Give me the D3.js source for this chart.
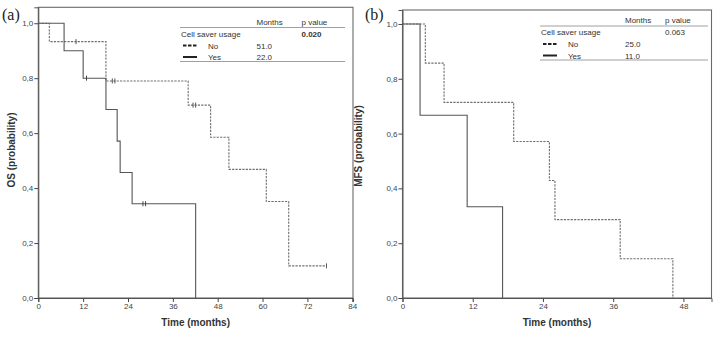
<!DOCTYPE html>
<html><head><meta charset="utf-8">
<script src="https://cdn.jsdelivr.net/npm/d3@7"></script>
<style>body{margin:0;background:#fff;}svg{display:block;}</style>
</head><body>
<svg id="c" width="718" height="337"></svg>
<script>
// ---- data ----
const yTicks = [0, 0.2, 0.4, 0.6, 0.8, 1.0];
const osXTicks = [0, 12, 24, 36, 48, 60, 72, 84];
const mfsXTicks = [0, 12, 24, 36, 48];
// step curves: [time, survival] at each event
const osNo  = [[0,1],[2.95,0.933],[18.1,0.790],[40.1,0.702],[46.1,0.585],[51.0,0.468],[61.0,0.351],[67.0,0.117],[77.1,0.117]];
const osNoCensor  = [[10.1,0.933],[19.8,0.790],[20.5,0.790],[41.4,0.702],[42.1,0.702],[77.1,0.117]];
const osYes = [[0,1],[6.9,0.9],[12.0,0.8],[18.1,0.686],[21.1,0.571],[21.9,0.457],[25.1,0.343],[42.1,0]];
const osYesCensor = [[12.9,0.8],[28.0,0.343],[28.7,0.343]];
const mfsNo  = [[0,1],[3.9,0.857],[7.1,0.714],[19.0,0.571],[25.1,0.429],[26.05,0.286],[37.2,0.143],[46.2,0]];
const mfsNoCensor = [];
const mfsYes = [[0,1],[3.0,0.667],[11.05,0.333],[17.1,0]];
const mfsYesCensor = [];
const legendGroups = ["No", "Yes"];
const osMedians = ["51.0", "22.0"];
const mfsMedians = ["25.0", "11.0"];
const osP = "0.020", mfsP = "0.063";

const svg = d3.select("#c");
const fmtY = d => d3.format(".1f")(d).replace(".", ",");

function panel(o) {
  const x = d3.scaleLinear().domain([0, o.xMax]).range([o.left, o.right]);
  const y = d3.scaleLinear().domain([0, o.yMax]).range([o.bottom, o.top]);
  const g = svg.append("g");
  // frame
  g.append("rect").attr("x", o.left).attr("y", o.top)
    .attr("width", o.right - o.left).attr("height", o.bottom - o.top)
    .attr("fill", "none").attr("stroke", "#6a6a6a").attr("stroke-width", 1.1);
  // axes
  const ax = g.append("g").attr("transform", `translate(0,${o.bottom})`)
    .call(d3.axisBottom(x).tickValues(o.xTicks).tickSize(4).tickPadding(1).tickFormat(d3.format("d")));
  const ay = g.append("g").attr("transform", `translate(${o.left},0)`)
    .call(d3.axisLeft(y).tickValues(yTicks).tickSize(4).tickPadding(1).tickFormat(fmtY));
  [ax, ay].forEach(a => {
    a.select(".domain").attr("stroke", "#555");
    a.selectAll(".tick line").attr("stroke", "#444");
    a.selectAll(".tick text").attr("fill", "#444").style("font-family", "Liberation Sans, Arial, sans-serif").style("font-size", "8px");
  });
  // titles
  g.append("text").attr("x", (o.left + o.right) / 2).attr("y", 326)
    .attr("text-anchor", "middle").style("font-family", "Liberation Sans, Arial, sans-serif")
    .style("font-size", "10px").style("font-weight", "bold").attr("fill", "#333").text("Time (months)");
  g.append("text").attr("transform", `translate(${o.yLabelX},${o.yLabelY}) rotate(-90)`)
    .attr("text-anchor", "middle").style("font-family", "Liberation Sans, Arial, sans-serif")
    .style("font-size", "10px").style("font-weight", "bold").attr("fill", "#333").text(o.yLabel);
  g.append("text").attr("x", o.tagX).attr("y", 20)
    .style("font-family", "Liberation Serif, Times New Roman, serif").style("font-size", "16px")
    .attr("fill", "#222").text(o.tag);
  // curves
  const line = d3.line().x(d => x(d[0])).y(d => y(d[1])).curve(d3.curveStepAfter);
  g.append("path").datum(o.no).attr("d", line).attr("fill", "none")
    .attr("stroke", "#6e6e6e").attr("stroke-width", 1.1).attr("stroke-dasharray", "2.2,1.2");
  g.append("path").datum(o.yes).attr("d", line).attr("fill", "none")
    .attr("stroke", "#555").attr("stroke-width", 1.1);
  const cens = (data, col) => g.selectAll(null).data(data).enter().append("line")
    .attr("x1", d => x(d[0])).attr("x2", d => x(d[0]))
    .attr("y1", d => y(d[1]) - 2.5).attr("y2", d => y(d[1]) + 2.5)
    .attr("stroke", col).attr("stroke-width", 1);
  cens(o.noC, "#555");
  cens(o.yesC, "#444");
  // legend table
  const L = o.leg, f = "Liberation Sans, Arial, sans-serif";
  const t = (xx, yy, s, w) => g.append("text").attr("x", xx).attr("y", yy).text(s)
    .style("font-family", f).style("font-size", "8px").style("font-weight", w || "normal").attr("fill", "#333");
  t(L.c1, L.y0, "Months"); t(L.c2, L.y0, "p value");
  g.append("line").attr("x1", L.x0).attr("x2", L.x1).attr("y1", L.y0 + 3).attr("y2", L.y0 + 3).attr("stroke", "#888").attr("stroke-width", 0.8);
  t(L.x0 + 1, L.y0 + 12, "Cell saver usage"); t(L.c2, L.y0 + 12, o.p, o.pBold ? "bold" : "normal");
  legendGroups.forEach((grp, i) => {
    const yy = L.y0 + 24 + i * 11.5;
    g.append("line").attr("x1", L.x0 + 3).attr("x2", L.x0 + 17).attr("y1", yy - 3).attr("y2", yy - 3)
      .attr("stroke", "#222").attr("stroke-width", 2).attr("stroke-dasharray", i === 0 ? "3.5,1.5" : null);
    t(L.x0 + 28, yy, grp);
    t(L.c1, yy, o.med[i]);
  });
  g.append("line").attr("x1", L.x0).attr("x2", L.x1).attr("y1", L.y0 + 37).attr("y2", L.y0 + 37).attr("stroke", "#888").attr("stroke-width", 0.8);
}

panel({left: 38.3, right: 353, top: 7.3, bottom: 298, xMax: 84.2, yMax: 1.058,
  xTicks: osXTicks, no: osNo, yes: osYes, noC: osNoCensor, yesC: osYesCensor,
  yLabel: "OS (probability)", yLabelX: 15, yLabelY: 150, tag: "(a)", tagX: 2,
  leg: {x0: 180, x1: 345, c1: 256.5, c2: 301.5, y0: 24.5}, p: osP, pBold: true, med: osMedians});
panel({left: 402.5, right: 711.5, top: 10, bottom: 298, xMax: 52.8, yMax: 1.051,
  xTicks: mfsXTicks, no: mfsNo, yes: mfsYes, noC: mfsNoCensor, yesC: mfsYesCensor,
  yLabel: "MFS (probability)", yLabelX: 362, yLabelY: 146, tag: "(b)", tagX: 365,
  leg: {x0: 540, x1: 708, c1: 625, c2: 665, y0: 23}, p: mfsP, pBold: false, med: mfsMedians});
</script>
</body></html>
